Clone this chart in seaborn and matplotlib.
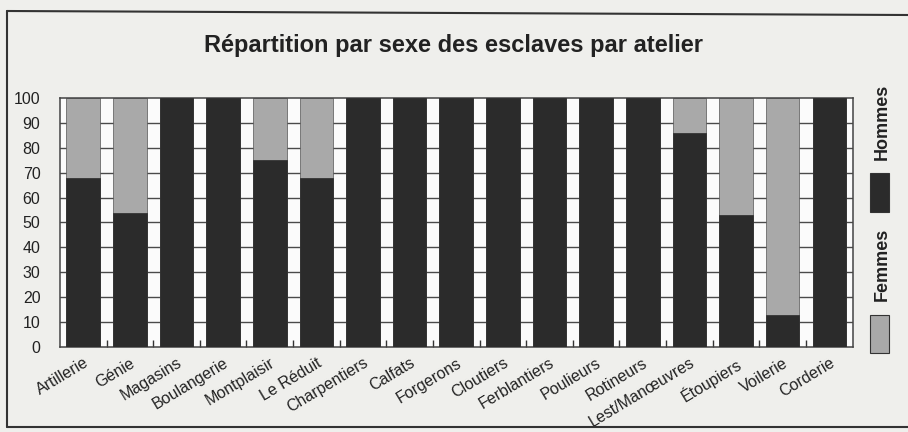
import numpy as np
import pandas as pd
import seaborn as sns
import matplotlib.pyplot as plt
from matplotlib.patches import Rectangle
from matplotlib.lines import Line2D

ateliers = ['Artillerie', 'Génie', 'Magasins', 'Boulangerie', 'Montplaisir',
            'Le Réduit', 'Charpentiers', 'Calfats', 'Forgerons', 'Cloutiers',
            'Ferblantiers', 'Poulieurs', 'Rotineurs', 'Lest/Manœuvres',
            'Étoupiers', 'Voilerie', 'Corderie']
hommes = [68, 54, 100, 100, 75, 68, 100, 100, 100, 100, 100, 100, 100, 86, 53, 13, 100]
femmes = [100 - h for h in hommes]

df = pd.DataFrame({'atelier': ateliers, 'Hommes': hommes, 'Femmes': femmes})
df['total'] = df['Hommes'] + df['Femmes']

sns.set_theme(style='white')
plt.rcParams['font.family'] = ['Liberation Sans', 'DejaVu Sans']

dark = '#2b2b2b'
light = '#a9a9a9'
bg = '#efefec'

fig = plt.figure(figsize=(9.08, 4.32), dpi=100, facecolor=bg)
ax = fig.add_axes([0.066, 0.197, 0.873, 0.576])
ax.set_facecolor('#fbfbfb')

# grid first so bars cover it
for v in range(10, 100, 10):
    ax.axhline(v, color='#4a4a4a', lw=1.0, zorder=0)

sns.barplot(data=df, x='atelier', y='total', color=light, width=0.72,
            saturation=1, edgecolor='#555555', linewidth=0.5, ax=ax, zorder=2)
sns.barplot(data=df, x='atelier', y='Hommes', color=dark, width=0.72,
            saturation=1, edgecolor=dark, linewidth=0.5, ax=ax, zorder=3)

ax.set_xlim(-0.5, len(ateliers) - 0.5)
ax.set_ylim(0, 100)
ax.set_yticks(range(0, 101, 10))
ax.set_xlabel('')
ax.set_ylabel('')
ax.tick_params(axis='y', length=0, pad=14, labelsize=11.5, labelcolor='#222222')
ax.tick_params(axis='x', which='major', length=0, pad=6, labelsize=11.5, labelcolor='#222222')
ax.set_xticks(np.arange(0.5, len(ateliers) - 0.5), minor=True)
ax.tick_params(axis='x', which='minor', direction='in', length=5, width=1, color='#333333', bottom=True)
for lab in ax.get_xticklabels():
    lab.set_rotation(31)
    lab.set_ha('right')
    lab.set_rotation_mode('anchor')
for s in ax.spines.values():
    s.set_color('#444444')
    s.set_linewidth(1.1)

fig.text(0.5, 0.895, 'Répartition par sexe des esclaves par atelier',
         ha='center', va='center', fontsize=17, fontweight='bold', color='#222222')

# vertical legend on the right
W, H = 908, 432
def fx(px):
    return px / W
def fy(py):
    return 1 - py / H

fig.patches.append(Rectangle((fx(870), fy(212)), fx(19), 39 / H, transform=fig.transFigure,
                             facecolor=dark, edgecolor='#333333', lw=0.8))
fig.patches.append(Rectangle((fx(870), fy(353)), fx(19), 38 / H, transform=fig.transFigure,
                             facecolor=light, edgecolor='#333333', lw=0.8))
fig.text(fx(882), fy(122), 'Hommes', rotation=90, ha='center', va='center',
         fontsize=13, fontweight='bold', color='#222222')
fig.text(fx(882), fy(264), 'Femmes', rotation=90, ha='center', va='center',
         fontsize=13, fontweight='bold', color='#222222')

# outer frame
for xs, ys in [((fx(7), 1.0), (fy(11), fy(15))),
               ((fx(7), fx(7)), (fy(11), fy(427))),
               ((fx(7), 1.0), (fy(427), fy(427)))]:
    fig.lines.append(Line2D(xs, ys, transform=fig.transFigure, color='#333333', lw=1.5))

fig.savefig('out.png', dpi=100, facecolor=bg)
